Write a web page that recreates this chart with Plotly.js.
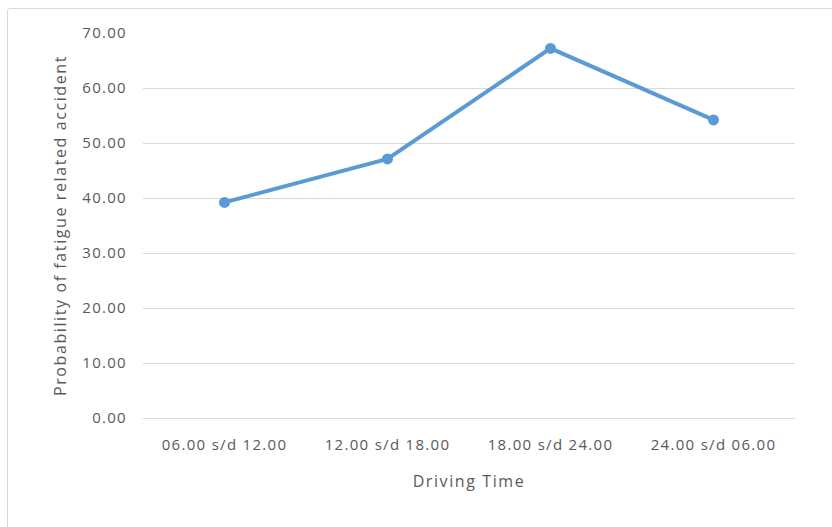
<!DOCTYPE html>
<html>
<head>
<meta charset="utf-8">
<script src="https://cdn.plot.ly/plotly-3.0.1.min.js"></script>
<style>
html,body{margin:0;padding:0;background:#fff;}
#chart{width:832px;height:527px;position:absolute;left:0;top:0;}
#chart .xtick text, #chart .ytick text{letter-spacing:1.3px;}
#chart .xtitle, #chart .ytitle{letter-spacing:1.6px;}
#frame{position:absolute;left:7px;top:8px;width:840px;height:540px;border:1px solid #d9d9d9;border-radius:3px;pointer-events:none;}
</style>
</head>
<body>
<div id="chart"></div>
<div id="frame"></div>
<script>
var categories = ["06.00 s/d 12.00", "12.00 s/d 18.00", "18.00 s/d 24.00", "24.00 s/d 06.00"];
var probability = [39.2, 47.1, 67.2, 54.2];
var yTicks = [0, 10, 20, 30, 40, 50, 60, 70];

var trace = {
  x: categories,
  y: probability,
  type: 'scatter',
  mode: 'lines+markers',
  line: {color: '#5B9BD5', width: 4},
  marker: {color: '#5B9BD5', size: 11},
  hoverinfo: 'none'
};

var layout = {
  width: 832, height: 527,
  margin: {l: 143, r: 37, t: 33, b: 109},
  paper_bgcolor: 'rgba(0,0,0,0)',
  plot_bgcolor: '#fff',
  showlegend: false,
  font: {family: 'Open Sans, Lato, sans-serif', color: '#595959', size: 15},
  xaxis: {
    type: 'category',
    range: [-0.5, 3.5],
    showgrid: false,
    zeroline: false,
    showline: false,
    ticks: 'outside',
    ticklen: 13,
    tickcolor: 'rgba(0,0,0,0)',
    tickfont: {size: 15, color: '#595959'},
    title: {text: 'Driving Time', font: {size: 16, color: '#595959'}, standoff: 22}
  },
  yaxis: {
    range: [0, 70],
    tickvals: yTicks,
    ticktext: yTicks.map(function(v){return v.toFixed(2);}),
    showgrid: true,
    gridcolor: '#d9d9d9',
    gridwidth: 1,
    zeroline: true,
    zerolinecolor: '#d9d9d9',
    zerolinewidth: 1,
    showline: false,
    ticks: 'outside',
    ticklen: 12,
    tickcolor: 'rgba(0,0,0,0)',
    tickfont: {size: 15, color: '#595959'},
    title: {text: 'Probability of fatigue related accident', font: {size: 16, color: '#595959'}, standoff: 18}
  }
};

Plotly.newPlot('chart', [trace], layout, {displayModeBar: false, staticPlot: true});
</script>
</body>
</html>
